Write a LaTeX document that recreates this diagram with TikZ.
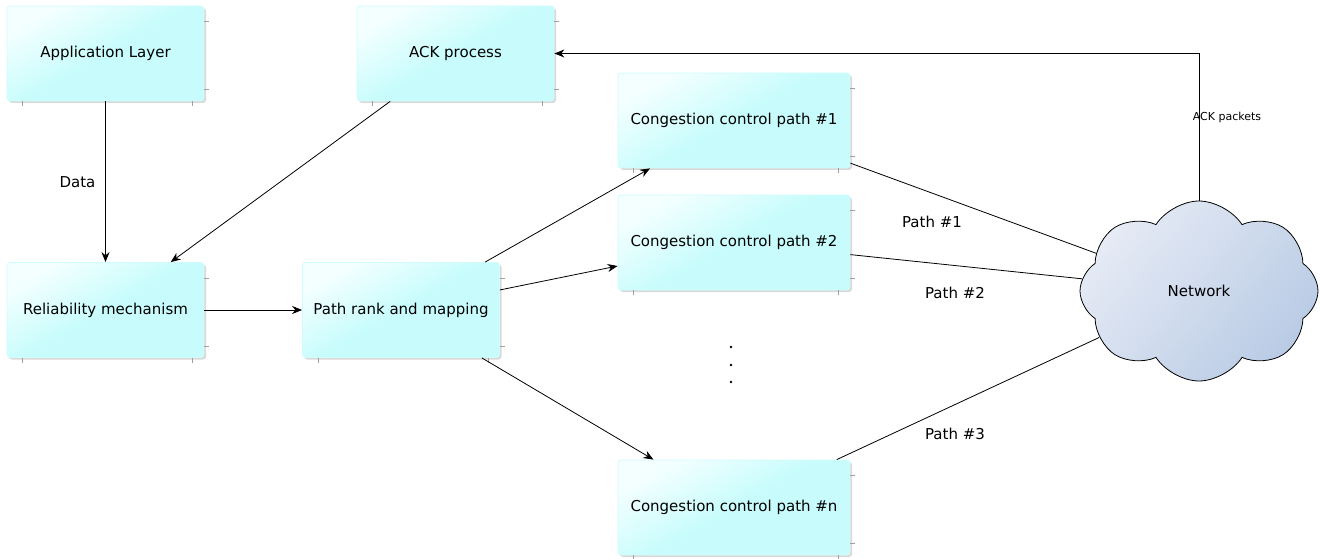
\documentclass[tikz,border=0pt]{standalone}
\usepackage{fontspec}
\setmainfont{DejaVu Sans}
\usetikzlibrary{shapes.symbols,shadows,arrows.meta}
\definecolor{boxcyan}{HTML}{C8FCFC}
\definecolor{boxlight}{HTML}{F4FFFF}
\definecolor{cloudl}{HTML}{E6EBF5}
\definecolor{cloudr}{HTML}{B9CBE5}
\definecolor{tickgray}{HTML}{A0A0A0}
\tikzset{
  blockbox/.style={rectangle, rounded corners=3pt, inner sep=0pt,
    draw=boxcyan!85!white, line width=0.8pt,
    top color=boxlight, bottom color=boxcyan, middle color=boxcyan, shading angle=30,
    drop shadow={opacity=0.3, shadow xshift=2pt, shadow yshift=-2pt},
    font=\fontsize{15}{18}\selectfont},
  narrowbox/.style={blockbox, minimum width=197pt, minimum height=95pt},
  widebox/.style={blockbox, minimum width=232pt, minimum height=95pt},
  netcloud/.style={cloud, cloud puffs=8, cloud puff arc=115, aspect=1.32,
    minimum width=238pt, minimum height=180pt, inner sep=0pt,
    draw=black, line width=0.8pt,
    top color=cloudl, bottom color=cloudr, shading angle=50,
    font=\fontsize{15}{18}\selectfont},
  conn/.style={line width=0.8pt, draw=black},
  arr/.style={conn, -{Stealth[length=10pt,width=8pt]}},
  lbl/.style={font=\fontsize{15}{18}\selectfont, inner sep=0pt},
  smalllbl/.style={font=\fontsize{11}{13}\selectfont, inner sep=0pt},
  tick/.style={draw=tickgray, line width=0.6pt},
}
\newcommand{\boxticks}[1]{%
  \draw[tick] ([xshift=16pt]#1.south west) -- ++(0,-5pt);
  \draw[tick] ([xshift=-12pt]#1.south east) -- ++(0,-5pt);
  \draw[tick] ([yshift=-16pt]#1.north east) -- ++(5pt,0);
  \draw[tick] ([yshift=12pt]#1.south east) -- ++(5pt,0);
}
\begin{document}
\begin{tikzpicture}[x=1pt,y=-1pt]
\useasboundingbox (0,0) rectangle (1320,559);
\node[narrowbox] (app) at (105.5,53.5) {Application Layer};
\node[narrowbox] (ack) at (455.5,53.5) {ACK process};
\node[narrowbox] (rel) at (105.5,310) {Reliability mechanism};
\node[narrowbox] (rank) at (401,310) {Path rank and mapping};
\node[widebox] (cc1) at (734,120.5) {Congestion control path \#1};
\node[widebox] (cc2) at (734,242.5) {Congestion control path \#2};
\node[widebox] (ccn) at (734,507.5) {Congestion control path \#n};
\node[netcloud] (net) at (1199,291) {Network};
\foreach \n in {app,ack,rel,rank,cc1,cc2,ccn} {\boxticks{\n}}

\draw[arr] (app) -- node[lbl, pos=0.5, xshift=-28pt] (datalbl) {Data} (rel);
\draw[arr] (ack) -- (rel);
\draw[arr] (rel) -- (rank);
\draw[arr] (rank) -- (cc1);
\draw[arr] (rank) -- (cc2);
\draw[arr] (rank) -- (ccn);
\draw[conn] (cc1) -- (net);
\draw[conn] (cc2) -- (net);
\draw[conn] (ccn) -- (net);
\coordinate (bend) at (net.north |- ack.east);
\draw[arr] (net.north) -- (bend) -- (ack.east);

\node[smalllbl] (ackl) at (1227,117) {ACK packets};
\node[lbl] (p1) at (932,222) {Path \#1};
\node[lbl] (p2) at (955,293) {Path \#2};
\node[lbl] (p3) at (955,434) {Path \#3};
\fill (731,347) circle (1.3pt) coordinate (d1);
\fill (731,365) circle (1.3pt) coordinate (d2);
\fill (731,382) circle (1.3pt) coordinate (d3);
\end{tikzpicture}
\end{document}
